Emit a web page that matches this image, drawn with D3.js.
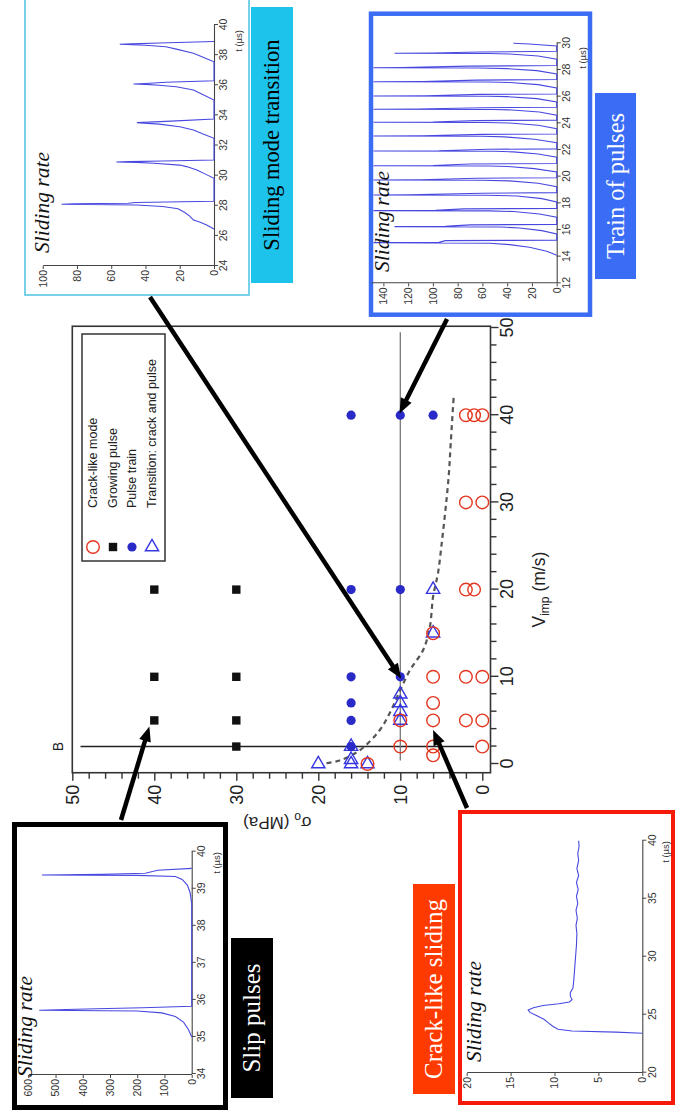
<!DOCTYPE html>
<html>
<head>
<meta charset="utf-8">
<script src="https://cdn.jsdelivr.net/npm/d3@7"></script>
<style>
  body { margin: 0; background: #fff; }
  svg { display: block; }
</style>
</head>
<body>
<svg id="fig" width="677" height="1113"></svg>
<script>
// ---------------- Mode map data: [V_imp (m/s), sigma (MPa)] ----------------
const crackLike = [[40,2],[40,1],[40,0],[30,2],[30,0],[20,2],[20,1],[15,6],[10,6],[10,2],[10,0],
  [7,6],[5,10],[5,6],[5,2],[5,0],[2,10],[2,6],[2,0],[1,6],[0,14]];
const growingPulse = [[20,40],[20,30],[10,40],[10,30],[5,40],[5,30],[2,30]];
const pulseTrain = [[40,16],[40,10],[40,6],[20,16],[20,10],[10,16],[10,10],[7,16],[5,16],[2,16]];
const transition = [[20,6],[15,6],[8,10],[7,10],[6,10],[5,10],[2,16],[0.5,16],[0,16],[0,20],[0,14]];
const modeBoundary = [[0.1,19],[0.4,17.4],[1.6,14.9],[3.9,12.5],[6,11.2],[8.5,10],[10.8,8.8],[13.1,7.2],
  [15.7,6.4],[19.2,6.0],[21.9,5.4],[25.3,4.95],[29.1,4.5],[33,4.1],[36.8,3.85],[42,3.5]];

const vImpTicks = [0,10,20,30,40,50];
const sigmaTicks = [0,10,20,30,40,50];
const legendLabels = ["Crack-like mode","Growing pulse","Pulse train","Transition: crack and pulse"];
const legendKinds = ["crack","growing","train","transition"];

// ---------------- Sliding-rate records: [t (µs), rate] ----------------
const slipRate = [[35.0,0],[35.2,12],[35.4,30],[35.55,60],[35.65,110],[35.7,200],[35.72,560],[35.74,460],
  [35.76,350],[35.79,180],[35.83,0],[38.6,0],[38.9,6],[39.1,16],[39.25,35],[39.33,60],[39.36,200],
  [39.37,550],[39.39,330],[39.42,170],[39.5,125],[39.55,0]];
const slipTimeTicks = [34,35,36,37,38,39,40];
const slipRateTicks = [0,100,200,300,400,500,600];

const crackRate = [[23.4,0],[23.5,3],[23.6,8],[23.75,9.6],[24.0,10.2],[24.3,10.7],[24.6,11.2],[24.9,12.0],
  [25.2,12.8],[25.4,13.0],[25.6,12.4],[25.8,11.3],[25.95,9.5],[26.1,8.3],[26.3,8.0],[26.6,8.2],[26.9,8.2],
  [27.3,7.9],[28,7.8],[29,7.7],[30,7.6],[31,7.5],[32,7.45],[32.7,7.55],[33.3,7.4],[34,7.55],[34.6,7.35],
  [35.2,7.5],[35.8,7.3],[36.4,7.5],[37,7.25],[37.6,7.45],[38.3,7.25],[38.9,7.35],[39.5,7.2],[40,7.25]];
const crackTimeTicks = [20,25,30,35,40];
const crackRateTicks = [0,5,10,15,20];

const transitionRate = [[26.45,0],[26.7,4],[26.9,8],[27.05,12],[27.3,14],[27.55,17],[27.8,21],[27.95,30],
  [28.05,45],[28.1,89],[28.13,82],[28.17,50],[28.22,46],[28.3,0],
  [29.82,0],[30.1,5],[30.37,10],[30.6,16],[30.7,20],[30.82,35],[30.88,45],[30.9,57],[30.93,50],[30.97,30],[31.04,0],
  [32.48,0],[32.75,6],[33.03,12],[33.25,20],[33.42,32],[33.5,43],[33.52,45],[33.55,38],[33.62,25],[33.76,0],
  [35.02,0],[35.35,6],[35.69,12],[35.9,22],[36.0,32],[36.06,40],[36.08,47],[36.12,40],[36.2,28],[36.3,0],
  [37.56,0],[37.85,6],[38.12,12],[38.4,22],[38.56,28],[38.66,40],[38.72,55],[38.75,48],[38.8,32],[38.9,0]];
const transitionTimeTicks = [24,26,28,30,32,34,36,38,40];
const transitionRateTicks = [0,20,40,60,80,100];

const trainRate = [[14.1,0],[14.4,8],[14.7,22],[14.9,38],[15.0,54],[15.05,148],[15.07,95],[15.2,90],[15.23,0],
  [15.7,0],[15.95,12],[16.15,30],[16.22,45],[16.25,131],[16.27,90],[16.38,70],[16.42,0],
  [16.95,0],[17.2,14],[17.38,35],[17.43,55],[17.45,148],[17.47,98],[17.58,75],[17.62,0],
  [18.1,0],[18.35,12],[18.55,32],[18.6,58],[18.62,148],[18.64,120],[18.75,60],[18.8,0],
  [19.25,0],[19.5,15],[19.68,38],[19.73,60],[19.75,148],[19.77,110],[19.88,65],[19.92,0],
  [20.35,0],[20.6,18],[20.76,40],[20.8,55],[20.82,148],[20.84,100],[20.95,70],[20.98,0],
  [21.45,0],[21.7,15],[21.86,35],[21.9,50],[21.92,148],[21.94,95],[22.05,55],[22.08,0],
  [22.55,0],[22.8,18],[22.98,42],[23.03,60],[23.05,148],[23.07,108],[23.17,60],[23.2,0],
  [23.6,0],[23.85,15],[24.02,38],[24.06,58],[24.08,148],[24.1,100],[24.2,65],[24.24,0],
  [24.6,0],[24.85,14],[25.0,36],[25.03,52],[25.05,148],[25.07,112],[25.17,60],[25.2,0],
  [25.6,0],[25.85,16],[26.0,40],[26.03,55],[26.05,148],[26.07,105],[26.17,62],[26.2,0],
  [26.65,0],[26.9,15],[27.06,38],[27.1,55],[27.12,148],[27.14,108],[27.24,65],[27.28,0],
  [27.7,0],[27.95,16],[28.1,40],[28.15,62],[28.17,148],[28.19,125],[28.29,72],[28.33,0],
  [28.8,0],[29.05,15],[29.2,38],[29.23,55],[29.25,131],[29.27,100],[29.35,62],[29.4,0],
  [29.8,0],[29.95,22],[30.0,35]];
const trainTimeTicks = [12,14,16,18,20,22,24,26,28,30];
const trainRateTicks = [0,20,40,60,80,100,120,140];

// ---------------- Styles ----------------
const C_RED = "#e3361e", C_BLUE = "#2a2ac8", C_TRI = "#3636e2", C_LINE = "#4848e0";
const SANS = "'Liberation Sans', Arial, sans-serif";
const SERIF = "'Liberation Serif', 'Times New Roman', serif";

const W = 677, H = 1113;
const svg = d3.select("#fig");
svg.append("rect").attr("width", W).attr("height", H).attr("fill", "#fff");

// The whole figure is laid out in landscape and turned a quarter turn counter-clockwise.
const g = svg.append("g").attr("transform", `translate(0,${H}) rotate(-90)`);

// ---------------- Main mode map ----------------
const x = d3.scaleLinear().domain([0, 50]).range([349, 785]);
const y = d3.scaleLinear().domain([0, 50]).range([482.3, 72.3]);
const xLo = -1, xHi = 50.2, yLo = -1, yHi = 50;

const main = g.append("g");
main.append("rect")
  .attr("x", x(xLo)).attr("y", y(yHi))
  .attr("width", x(xHi) - x(xLo)).attr("height", y(yLo) - y(yHi))
  .attr("fill", "#fff").attr("stroke", "#333").attr("stroke-width", 1.6);

function styleAxis(sel, size) {
  sel.select(".domain").remove();
  sel.selectAll(".tick line").attr("stroke", "#333").attr("stroke-width", 1.4);
  sel.selectAll(".tick text").attr("font-family", SANS).attr("font-size", size).attr("fill", "#222");
}

const minorV = d3.range(0, 51, 2).filter(d => d % 10 !== 0);
main.append("g").attr("transform", `translate(0,${y(yLo)})`)
  .call(d3.axisBottom(x).tickValues(minorV).tickFormat("").tickSize(6))
  .call(s => styleAxis(s, 18));
main.append("g").attr("transform", `translate(0,${y(yLo)})`)
  .call(d3.axisBottom(x).tickValues(vImpTicks).tickFormat(d3.format("d")).tickSize(8).tickPadding(2))
  .call(s => styleAxis(s, 18));
main.append("g").attr("transform", `translate(${x(xLo)},0)`)
  .call(d3.axisLeft(y).tickValues(minorV).tickFormat("").tickSize(6))
  .call(s => styleAxis(s, 18));
main.append("g").attr("transform", `translate(${x(xLo)},0)`)
  .call(d3.axisLeft(y).tickValues(sigmaTicks).tickFormat(d3.format("d")).tickSize(8).tickPadding(4))
  .call(s => styleAxis(s, 18));

// axis titles
const xt = main.append("text").attr("x", x(20)).attr("y", 545)
  .attr("text-anchor", "middle").attr("font-family", SANS).attr("font-size", 17.5).attr("fill", "#222");
xt.append("tspan").text("V");
xt.append("tspan").attr("font-size", 12).attr("dy", 4).text("imp");
xt.append("tspan").attr("dy", -4).text(" (m/s)");

const yt = main.append("text")
  .attr("transform", `translate(296,${y(25)}) rotate(-90)`)
  .attr("text-anchor", "middle").attr("font-family", SANS).attr("font-size", 17).attr("fill", "#222");
yt.append("tspan").text("σ");
yt.append("tspan").attr("font-size", 12).attr("dy", 4).text("o");
yt.append("tspan").attr("dy", -4).text(" (MPa)");

// reference lines: line B at V = 2 and sigma = 10
main.append("line").attr("x1", x(2)).attr("x2", x(2)).attr("y1", y(1)).attr("y2", y(49))
  .attr("stroke", "#222").attr("stroke-width", 1.4);
main.append("text").attr("x", x(2)).attr("y", 63).attr("text-anchor", "middle")
  .attr("font-family", SANS).attr("font-size", 14).attr("fill", "#222").text("B");
main.append("line").attr("x1", x(0.4)).attr("x2", x(49.5)).attr("y1", y(10)).attr("y2", y(10))
  .attr("stroke", "#777").attr("stroke-width", 1.3);

// boundary between crack-like and pulse modes
main.append("path").datum(modeBoundary)
  .attr("d", d3.line().x(d => x(d[0])).y(d => y(d[1])).curve(d3.curveCatmullRom))
  .attr("fill", "none").attr("stroke", "#555").attr("stroke-width", 2.2).attr("stroke-dasharray", "5,4");

function marker(parent, kind, u, v) {
  const m = parent.append("g").attr("transform", `translate(${u},${v})`);
  if (kind === "crack") {
    m.append("circle").attr("r", 6.3).attr("fill", "none").attr("stroke", C_RED).attr("stroke-width", 1.4);
  } else if (kind === "growing") {
    m.append("rect").attr("x", -4.2).attr("y", -4.2).attr("width", 8.4).attr("height", 8.4).attr("fill", "#111");
  } else if (kind === "train") {
    m.append("circle").attr("r", 4.6).attr("fill", C_BLUE);
  } else {
    m.append("path").attr("d", d3.symbol(d3.symbolTriangle, 76)()).attr("transform", "rotate(90)")
      .attr("fill", "none").attr("stroke", C_TRI).attr("stroke-width", 1.4);
  }
}
transition.forEach(d => marker(main, "transition", x(d[0]), y(d[1])));
crackLike.forEach(d => marker(main, "crack", x(d[0]), y(d[1])));
pulseTrain.forEach(d => marker(main, "train", x(d[0]), y(d[1])));
growingPulse.forEach(d => marker(main, "growing", x(d[0]), y(d[1])));

// legend
const leg = main.append("g");
leg.append("rect").attr("x", 552).attr("y", 82).attr("width", 227).attr("height", 83)
  .attr("fill", "#fff").attr("stroke", "#333").attr("stroke-width", 1.5);
const legRows = [93, 113, 132, 152];
legendLabels.forEach((lab, i) => {
  marker(leg, legendKinds[i], 566, legRows[i]);
  leg.append("text").attr("x", 605).attr("y", legRows[i]).attr("dy", "0.35em")
    .attr("font-family", SANS).attr("font-size", 12.5).attr("fill", "#222").text(lab);
});

// ---------------- Sliding-rate insets ----------------
const insets = [
  { data: slipRate, box: [5.5, 288.5, 14.5, 225.5], stroke: "#000", sw: 5,
    tDom: [34, 40], tRng: [39, 261.3], vDom: [0, 600], vRng: [191.7, 28.3],
    tTicks: slipTimeTicks, vTicks: slipRateTicks, vAxisU: 38, tLab: [261, 220], title: [36, 32] },
  { data: crackRate, box: [10, 301, 460, 673], stroke: "#f51a0a", sw: 4,
    tDom: [20, 40], tRng: [40.3, 272.3], vDom: [0, 20], vRng: [642.3, 466.7],
    tTicks: crackTimeTicks, vTicks: crackRateTicks, vAxisU: 40, tLab: [272, 669], title: [51, 481] },
  { data: transitionRate, box: [818, 1125, 25, 249], stroke: "#55c6e3", sw: 1.6,
    tDom: [24, 40], tRng: [847, 1088], vDom: [0, 100], vRng: [214, 42.7],
    tTicks: transitionTimeTicks, vTicks: transitionRateTicks, vAxisU: 847, tLab: [1083, 242], title: [860, 49] },
  { data: trainRate, box: [798.3, 1099.3, 371, 590], stroke: "#3a6cf4", sw: 4.5,
    tDom: [12, 30], tRng: [829.7, 1069.7], vDom: [0, 150], vRng: [556.7, 371],
    tTicks: trainTimeTicks, vTicks: trainRateTicks, vAxisU: 829.7, tLab: [1066, 586], title: [841, 389] }
];

function insetAxis(sel) {
  sel.select(".domain").attr("stroke", "#444").attr("stroke-width", 1.1);
  sel.selectAll(".tick line").attr("stroke", "#444").attr("stroke-width", 1);
  sel.selectAll(".tick text").attr("font-family", SANS).attr("font-size", 10.5).attr("fill", "#333");
}

insets.forEach(c => {
  const gi = g.append("g");
  gi.append("rect").attr("x", c.box[0]).attr("y", c.box[2])
    .attr("width", c.box[1] - c.box[0]).attr("height", c.box[3] - c.box[2])
    .attr("fill", "#fff").attr("stroke", c.stroke).attr("stroke-width", c.sw);
  const t = d3.scaleLinear().domain(c.tDom).range(c.tRng);
  const v = d3.scaleLinear().domain(c.vDom).range(c.vRng);
  gi.append("g").attr("transform", `translate(0,${v(c.vDom[0])})`)
    .call(d3.axisBottom(t).tickValues(c.tTicks).tickFormat(d3.format("d")).tickSize(4).tickPadding(2).tickSizeOuter(0))
    .call(insetAxis);
  gi.append("g").attr("transform", `translate(${c.vAxisU},0)`)
    .call(d3.axisLeft(v).tickValues(c.vTicks).tickFormat(d3.format("d")).tickSize(3).tickPadding(1).tickSizeOuter(0))
    .call(insetAxis);
  gi.append("path").datum(c.data)
    .attr("d", d3.line().x(d => t(d[0])).y(d => v(d[1])))
    .attr("fill", "none").attr("stroke", C_LINE).attr("stroke-width", 1.1);
  gi.append("text").attr("x", c.tLab[0]).attr("y", c.tLab[1]).attr("text-anchor", "end")
    .attr("font-family", SANS).attr("font-size", 9.5).attr("fill", "#333").text("t (µs)");
  gi.append("text").attr("x", c.title[0]).attr("y", c.title[1])
    .attr("font-family", SERIF).attr("font-style", "italic").attr("font-size", 21.5).attr("fill", "#111")
    .text("Sliding rate");
});

// ---------------- Mode labels ----------------
const tags = [
  { text: "Slip pulses", box: [15, 175, 231, 273], fill: "#000", color: "#fff", size: 25 },
  { text: "Crack-like sliding", box: [19, 229, 413, 455], fill: "#ff3a00", color: "#fff", size: 25 },
  { text: "Sliding mode transition", box: [830, 1106, 251, 293], fill: "#1ec3ec", color: "#000", size: 22.5 },
  { text: "Train of pulses", box: [834, 1020, 595, 636], fill: "#3a6cf5", color: "#fff", size: 24.5 }
];
tags.forEach(tg => {
  g.append("rect").attr("x", tg.box[0]).attr("y", tg.box[2])
    .attr("width", tg.box[1] - tg.box[0]).attr("height", tg.box[3] - tg.box[2]).attr("fill", tg.fill);
  g.append("text").attr("x", (tg.box[0] + tg.box[1]) / 2).attr("y", (tg.box[2] + tg.box[3]) / 2)
    .attr("dy", "0.33em").attr("text-anchor", "middle")
    .attr("font-family", SERIF).attr("font-size", tg.size).attr("fill", tg.color).text(tg.text);
});

// ---------------- Arrows from each record to its test point ----------------
const arrows = [
  { from: [816, 150], to: [9.8, 9.9] },
  { from: [794, 447], to: [40.2, 10.1] },
  { from: [293, 121], to: [4.3, 40.6] },
  { from: [305, 467], to: [3.9, 6.0] }
];
arrows.forEach(a => {
  const tu = x(a.to[0]), tv = y(a.to[1]);
  const du = tu - a.from[0], dv = tv - a.from[1];
  const len = Math.hypot(du, dv), ux = du / len, uy = dv / len;
  const L = 15, Wd = 12;
  const bu = tu - ux * L, bv = tv - uy * L;
  g.append("line").attr("x1", a.from[0]).attr("y1", a.from[1]).attr("x2", bu + ux * 2).attr("y2", bv + uy * 2)
    .attr("stroke", "#000").attr("stroke-width", 4.5);
  g.append("path")
    .attr("d", `M${tu},${tv}L${bu - uy * Wd / 2},${bv + ux * Wd / 2}L${bu + uy * Wd / 2},${bv - ux * Wd / 2}Z`)
    .attr("fill", "#000");
});
</script>
</body>
</html>
